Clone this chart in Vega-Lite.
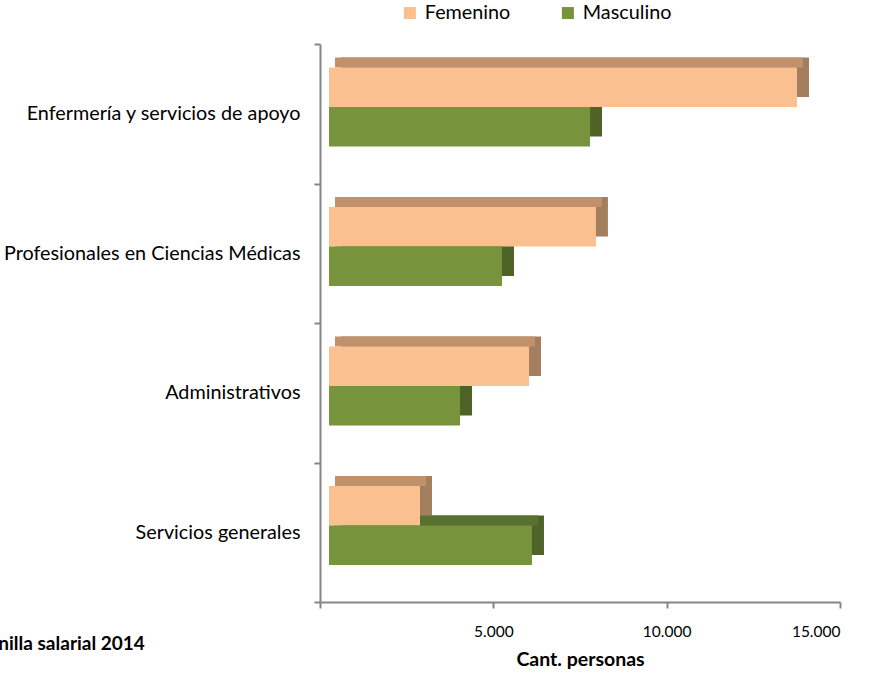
{
  "$schema": "https://vega.github.io/schema/vega-lite/v6.json",
  "autosize": "none",
  "width": 520,
  "height": 558,
  "padding": {"left": 320, "top": 44, "right": 31, "bottom": 74},
  "background": "white",
  "config": {"view": {"stroke": null}, "font": "Lato"},
  "title": {
    "text": "Fuente: Planilla salarial 2014",
    "orient": "bottom",
    "anchor": "start",
    "frame": "group",
    "font": "Lato",
    "fontSize": 19,
    "fontWeight": "bold",
    "color": "#000000",
    "dx": -416,
    "dy": -38
  },
  "data": {
    "values": [
      {"categoria": "Enfermería y servicios de apoyo", "sexo": "Femenino", "cantidad": 13500},
      {"categoria": "Enfermería y servicios de apoyo", "sexo": "Masculino", "cantidad": 7530},
      {"categoria": "Profesionales en Ciencias Médicas", "sexo": "Femenino", "cantidad": 7700},
      {"categoria": "Profesionales en Ciencias Médicas", "sexo": "Masculino", "cantidad": 4990},
      {"categoria": "Administrativos", "sexo": "Femenino", "cantidad": 5770},
      {"categoria": "Administrativos", "sexo": "Masculino", "cantidad": 3780},
      {"categoria": "Servicios generales", "sexo": "Femenino", "cantidad": 2625},
      {"categoria": "Servicios generales", "sexo": "Masculino", "cantidad": 5855}
    ]
  },
  "encoding": {
    "y": {
      "field": "categoria",
      "type": "nominal",
      "sort": ["Enfermería y servicios de apoyo", "Profesionales en Ciencias Médicas", "Administrativos", "Servicios generales"],
      "scale": {"paddingInner": 0, "paddingOuter": 0},
      "axis": {
        "title": null,
        "tickBand": "extent",
        "domainColor": "#868686",
        "domainWidth": 2,
        "tickColor": "#868686",
        "tickWidth": 2,
        "tickSize": 6,
        "labelFont": "Lato",
        "labelFontSize": 19.8,
        "labelColor": "#000000",
        "labelPadding": 14,
        "labelLimit": 400
      }
    },
    "x": {
      "field": "cantidad",
      "type": "quantitative",
      "scale": {"domain": [0, 15000], "nice": false},
      "axis": {
        "title": "Cant. personas",
        "titleFont": "Lato",
        "titleFontSize": 19.5,
        "titleFontWeight": "bold",
        "titleColor": "#000000",
        "titlePadding": 11,
        "values": [0, 5000, 10000, 15000],
        "labelExpr": "datum.value == 0 ? '' : replace(format(datum.value, ','), ',', '.')",
        "labelFont": "Lato",
        "labelFontSize": 15.5,
        "labelColor": "#000000",
        "labelPadding": 16,
        "grid": false,
        "domainColor": "#868686",
        "domainWidth": 2,
        "tickColor": "#868686",
        "tickWidth": 2,
        "tickSize": 6
      }
    }
  },
  "layer": [
    {
      "transform": [{"filter": "datum.sexo == 'Femenino'"}],
      "mark": {"type": "bar", "size": 39.5, "yOffset": -36.5, "xOffset": 21, "x2Offset": 21, "color": "#A37F5F"}
    },
    {
      "transform": [{"filter": "datum.sexo == 'Masculino'"}],
      "mark": {"type": "bar", "size": 39.5, "yOffset": 3, "xOffset": 21, "x2Offset": 21, "color": "#4F6228"}
    },
    {
      "transform": [{"filter": "datum.sexo == 'Femenino'"}],
      "mark": {"type": "bar", "size": 10, "yOffset": -51.25, "xOffset": 15, "x2Offset": 15, "color": "#C0916B"}
    },
    {
      "transform": [{"filter": "datum.sexo == 'Masculino'"}],
      "mark": {"type": "bar", "size": 10, "yOffset": -11.75, "xOffset": 15, "x2Offset": 15, "color": "#57722E"}
    },
    {
      "transform": [{"filter": "datum.sexo == 'Femenino'"}],
      "mark": {"type": "bar", "size": 39.5, "yOffset": -26.5, "xOffset": 9, "x2Offset": 9},
      "encoding": {
        "color": {
          "field": "sexo",
          "type": "nominal",
          "scale": {"domain": ["Femenino", "Masculino"], "range": ["#FAC090", "#77933C"]},
          "legend": {
            "title": null,
            "orient": "none",
            "legendX": 80,
            "legendY": -41,
            "direction": "horizontal",
            "symbolType": "square",
            "symbolSize": 144,
            "symbolStrokeWidth": 0,
            "labelFont": "Lato",
            "labelFontSize": 19.8,
            "labelColor": "#000000",
            "labelOffset": 5,
            "columnPadding": 47
          }
        }
      }
    },
    {
      "transform": [{"filter": "datum.sexo == 'Masculino'"}],
      "mark": {"type": "bar", "size": 39.5, "yOffset": 13, "xOffset": 9, "x2Offset": 9},
      "encoding": {
        "color": {"field": "sexo", "type": "nominal"}
      }
    }
  ]
}
